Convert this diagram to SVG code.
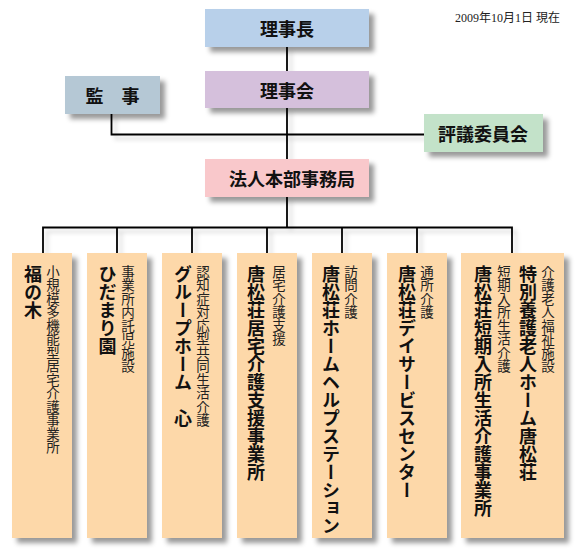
<svg xmlns="http://www.w3.org/2000/svg" width="580" height="553" viewBox="0 0 580 553">
<defs>
<filter id="sh" x="-20%" y="-20%" width="150%" height="150%">
<feDropShadow dx="5" dy="5" stdDeviation="2.5" flood-color="#000" flood-opacity="0.4"/>
</filter>
<filter id="lsh" x="-50%" y="-50%" width="200%" height="200%">
<feDropShadow dx="4" dy="4" stdDeviation="2" flood-color="#000" flood-opacity="0.18"/>
</filter>
</defs>
<style>
.t{font-family:"Noto Sans CJK JP","Noto Sans CJK SC",sans-serif;font-weight:bold;font-size:18px;fill:#111;text-anchor:middle;dominant-baseline:central}
.vt{font-family:"Noto Sans CJK JP","Noto Sans CJK SC",sans-serif;font-weight:bold;font-size:18px;fill:#111;writing-mode:vertical-rl}
.vs{font-family:"Noto Sans CJK JP","Noto Sans CJK SC",sans-serif;font-weight:normal;font-size:13.5px;fill:#222;writing-mode:vertical-rl}
.box{filter:url(#sh)}
.unit{fill:#fdd8a9}
.ln{fill:none;stroke:#000;stroke-width:1.8}
</style>
<rect width="580" height="553" fill="#fff"/>
<text x="455" y="22" font-family="'Liberation Serif','Noto Sans CJK JP',serif" font-size="12" fill="#222">2009年10月1日 現在</text>
<g id="connectors" filter="url(#lsh)">
<path class="ln" d="M287 47V71M287 108V159M111.5 114V134.5H424M287 197V227.5M43 253V227.5H512V253M117 227.5V253M192 227.5V253M267 227.5V253M342 227.5V253M417 227.5V253"/>
</g>
<g id="rijicho">
<rect class="box" x="205" y="9" width="164" height="38" fill="#b8d0ea"/>
<text class="t" x="287" y="28">理事長</text>
</g>
<g id="rijikai">
<rect class="box" x="205" y="71" width="164" height="37" fill="#d5c0dc"/>
<text class="t" x="287" y="89.5">理事会</text>
</g>
<g id="kanji">
<rect class="box" x="65" y="76" width="95" height="38" fill="#b5c8d5"/>
<text class="t" x="112.5" y="95">監　事</text>
</g>
<g id="hyogiin">
<rect class="box" x="424" y="114" width="119" height="38" fill="#c3e2c9"/>
<text class="t" x="483" y="133">評議委員会</text>
</g>
<g id="honbu">
<rect class="box" x="205" y="159" width="164" height="38" fill="#f9c8cb"/>
<text class="t" x="292" y="178">法人本部事務局</text>
</g>
<g id="fukunoki">
<rect class="box unit" x="12" y="253" width="60" height="285"/>
<text class="vt" x="33" y="265">福の木</text>
<text class="vs" x="53" y="265">小規模多機能型居宅介護事業所</text>
</g>
<g id="hidamari">
<rect class="box unit" x="87" y="253" width="60" height="285"/>
<text class="vt" x="107.5" y="265">ひだまり園</text>
<text class="vs" x="128" y="265">事業所内託児施設</text>
</g>
<g id="grouphome">
<rect class="box unit" x="162" y="253" width="60" height="285"/>
<text class="vt" x="183" y="265">グループホーム　心</text>
<text class="vs" x="203" y="265">認知症対応型共同生活介護</text>
</g>
<g id="kyotaku">
<rect class="box unit" x="237" y="253" width="60" height="285"/>
<text class="vt" x="256" y="265">唐松荘居宅介護支援事業所</text>
<text class="vs" x="279" y="265">居宅介護支援</text>
</g>
<g id="homehelp">
<rect class="box unit" x="312" y="253" width="60" height="285"/>
<text class="vt" x="331" y="265">唐松荘ホームヘルプステーション</text>
<text class="vs" x="351" y="265">訪問介護</text>
</g>
<g id="dayservice">
<rect class="box unit" x="387" y="253" width="60" height="285"/>
<text class="vt" x="407" y="265">唐松荘デイサービスセンター</text>
<text class="vs" x="427" y="265">通所介護</text>
</g>
<g id="tokuyo">
<rect class="box unit" x="461" y="253" width="103" height="285"/>
<text class="vt" x="483" y="265">唐松荘短期入所生活介護事業所</text>
<text class="vs" x="504" y="265">短期入所生活介護</text>
<text class="vt" x="528" y="265">特別養護老人ホーム唐松荘</text>
<text class="vs" x="548" y="265">介護老人福祉施設</text>
</g>
</svg>
